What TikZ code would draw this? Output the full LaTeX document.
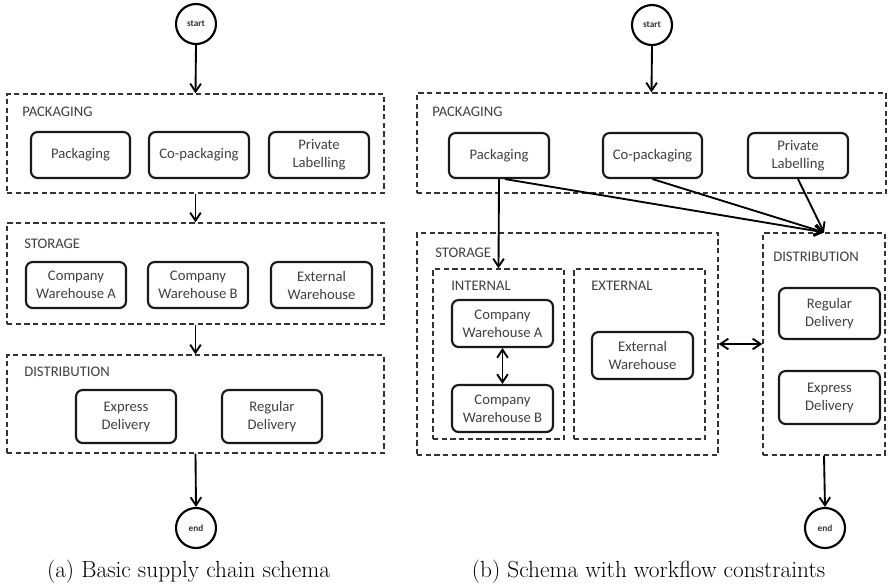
\documentclass[tikz,border=0pt]{standalone}
\usepackage{fontspec}
\newfontfamily\calib{Carlito}
\usetikzlibrary{arrows.meta,fit}
\tikzset{
  frame/.style={draw=black!80, line width=1pt, dash pattern=on 4pt off 2.5pt, inner sep=0pt},
  task/.style 2 args={draw=black!90, line width=1.6pt, rounded corners=5pt, inner sep=0pt, align=center,
    minimum width=#1*0.75pt, minimum height=#2*0.75pt,
    font=\calib\fontsize{11}{13.5}\selectfont, text=black!75},
  lab/.style={anchor=west, inner sep=0pt, font=\calib\fontsize{11}{13}\selectfont, text=black!75},
  circ/.style={draw, circle, line width=1.6pt, minimum size=30pt, inner sep=0pt,
    font=\calib\bfseries\fontsize{7}{8}\selectfont, text=black!80},
  arr/.style={-{Straight Barb[length=6pt,width=8pt]}, line width=1.4pt},
  darr/.style={{Straight Barb[length=6pt,width=8pt]}-{Straight Barb[length=6pt,width=8pt]}, line width=1.4pt},
  captxt/.style={inner sep=0pt, font=\fontsize{17.5}{20}\selectfont}
}
\begin{document}
\begin{tikzpicture}[x=0.75pt,y=-0.75pt]
\useasboundingbox (0,0) rectangle (889,587);
% ---------------- (a) ----------------
\node[circ] (a_start) at (196,24) {start};
\node[frame, fit={(7,94) (384,193)}] (a_pack) {};
\node[lab] (a_packl) at (22,112) {PACKAGING};
\node[task={99}{46}] (a_p1) at (80.5,155) {Packaging};
\node[task={100}{46}] (a_p2) at (199,155) {Co-packaging};
\node[task={100}{46}] (a_p3) at (319,155) {Private\\Labelling};
\node[frame, fit={(7,223) (384,324)}] (a_stor) {};
\node[lab] (a_storl) at (24,244) {STORAGE};
\node[task={100}{46}] (a_s1) at (76,285) {Company\\Warehouse A};
\node[task={100}{46}] (a_s2) at (198,285) {Company\\Warehouse B};
\node[task={101}{46}] (a_s3) at (321.5,285) {External\\Warehouse};
\node[frame, fit={(7,355) (384,453)}] (a_dist) {};
\node[lab] (a_distl) at (24,372) {DISTRIBUTION};
\node[task={100}{53}] (a_d1) at (126,416.5) {Express\\Delivery};
\node[task={100}{53}] (a_d2) at (272,416.5) {Regular\\Delivery};
\node[circ] (a_end) at (196,528) {end};
\node[captxt] (a_cap) at (188.5,572) {(a) Basic supply chain schema};
\draw[arr] (a_start.south) -- (a_pack.north);
\draw[arr] (a_pack.south) -- (a_stor.north);
\draw[arr] (a_stor.south) -- (a_dist.north);
\draw[arr] (a_dist.south) -- (a_end.north);
% ---------------- (b) ----------------
\node[circ] (b_start) at (652,25) {start};
\node[frame, fit={(417,93) (886,193)}] (b_pack) {};
\node[lab] (b_packl) at (432,112) {PACKAGING};
\node[task={100}{45}] (b_p1) at (499,155.5) {Packaging};
\node[task={99}{45}] (b_p2) at (652.5,155.5) {Co-packaging};
\node[task={100}{45}] (b_p3) at (798,155.5) {Private\\Labelling};
\node[frame, fit={(417,233) (718,455)}] (b_stor) {};
\node[lab] (b_storl) at (435,253) {STORAGE};
\node[frame, fit={(433,269) (564,439)}] (b_int) {};
\node[lab] (b_intl) at (451,286) {INTERNAL};
\node[frame, fit={(574,269) (705,439)}] (b_ext) {};
\node[lab] (b_extl) at (591,286) {EXTERNAL};
\node[task={101}{47}] (b_cwa) at (502.5,323.5) {Company\\Warehouse A};
\node[task={101}{47}] (b_cwb) at (502.5,408.5) {Company\\Warehouse B};
\node[task={101}{47}] (b_ew) at (642.5,355.5) {External\\Warehouse};
\node[frame, fit={(763,233) (885,455)}] (b_dist) {};
\node[lab] (b_distl) at (773,257) {DISTRIBUTION};
\node[task={101}{51}] (b_rd) at (829.5,313.5) {Regular\\Delivery};
\node[task={101}{53}] (b_ed) at (829.5,397.5) {Express\\Delivery};
\node[circ] (b_end) at (825,528) {end};
\node[captxt] (b_cap) at (648.5,572) {(b) Schema with workflow constraints};
\draw[arr] (b_start.south) -- (b_pack.north);
\draw[arr] (b_p1.south) -- (b_int.north);
\draw[arr] ([xshift=4.5pt]b_p1.south) -- (b_dist.north);
\draw[arr] (b_p2.south) -- (b_dist.north);
\draw[arr] (b_p3.south) -- (b_dist.north);
\draw[darr] (b_cwa.south) -- (b_cwb.north);
\draw[darr] (b_stor.east) -- (b_dist.west);
\draw[arr] (b_dist.south) -- (b_end.north);
\end{tikzpicture}
\end{document}
